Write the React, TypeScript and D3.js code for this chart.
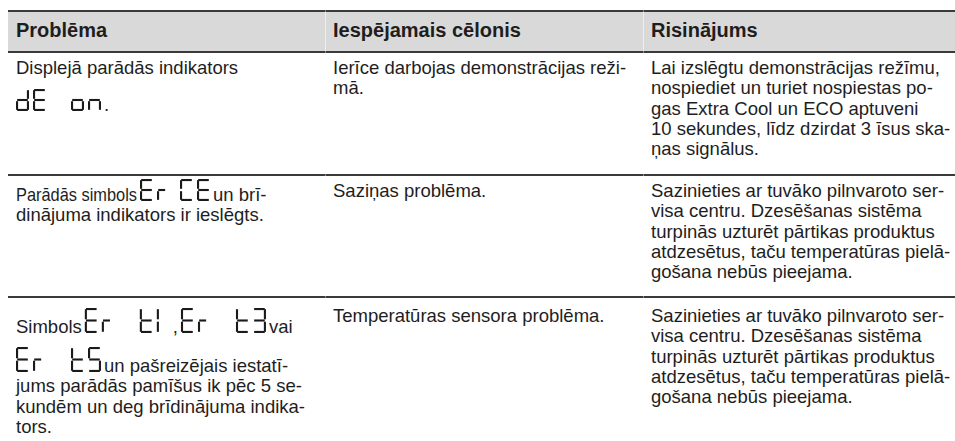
import React, { useEffect, useRef } from "react";
import * as d3 from "d3";

const WIDTH = 955;
const HEIGHT = 441;

// Column headers
const headers = ["Problēma", "Iespējamais cēlonis", "Risinājums"];

// Cell text lines; {…} marks a seven-segment display code, "|" a narrow gap in it
const problems = [
  ["Displejā parādās indikators", "{dE on}."],
  ["Parādās simbols{Er|CE}un brī-", "dinājuma indikators ir ieslēgts."],
  [
    "Simbols{Er t1},{Er t3}vai",
    "{Er t5}un pašreizējais iestatī-",
    "jums parādās pamīšus ik pēc 5 se-",
    "kundēm un deg brīdinājuma indika-",
    "tors.",
  ],
];
const causes = [
  ["Ierīce darbojas demonstrācijas reži-", "mā."],
  ["Saziņas problēma."],
  ["Temperatūras sensora problēma."],
];
const solutions = [
  [
    "Lai izslēgtu demonstrācijas režīmu,",
    "nospiediet un turiet nospiestas po-",
    "gas Extra Cool un ECO aptuveni",
    "10 sekundes, līdz dzirdat 3 īsus ska-",
    "ņas signālus.",
  ],
  [
    "Sazinieties ar tuvāko pilnvaroto ser-",
    "visa centru. Dzesēšanas sistēma",
    "turpinās uzturēt pārtikas produktus",
    "atdzesētus, taču temperatūras pielā-",
    "gošana nebūs pieejama.",
  ],
  [
    "Sazinieties ar tuvāko pilnvaroto ser-",
    "visa centru. Dzesēšanas sistēma",
    "turpinās uzturēt pārtikas produktus",
    "atdzesētus, taču temperatūras pielā-",
    "gošana nebūs pieejama.",
  ],
];

// seven-segment map
const SEGMENTS: Record<string, string> = {
  d: "bcdeg",
  E: "adefg",
  o: "cdeg",
  n: "ceg",
  r: "eg",
  C: "adef",
  t: "defg",
  "1": "ef",
  "3": "abcdg",
  "5": "acdfg",
};

const FONT = "'Liberation Sans', Arial, Helvetica, sans-serif";
const BODY_SIZE = 18.5;
const HEAD_SIZE = 20;
const TEXT_COLOR = "#1e1e1e";
const LINE_COLOR = "#3a3a3a";

// layout
const colEdges = [8, 325, 643, WIDTH];
const PAD_X = 8;
const TOP_LINE = 11;
const HEAD_LINE = 52;
const ROW_LINES = [175, 297];
const HEAD_BASE = 37;
const LINE_H = 20.3;
const GLYPH_W = 13;
const GLYPH_T = 2.1;
const GLYPH_PITCH = 17;
const GLYPH_SPACE = 21;
const GLYPH_NARROW = 6;
const rowGlyphH = [22, 22, 25];
// run widths that the reference squeezes
const squeezed: Record<string, number> = { "Parādās simbols": 121 };

// first baselines [row][col] and advance of a line that holds a display code
const firstBase = [
  [74, 74, 74],
  [201, 197, 197],
  [333, 322, 322],
];
const glyphLineAdv = [37, 37, 39];

export default function App() {
  const ref = useRef<SVGSVGElement>(null);

  useEffect(() => {
    const svg = d3.select(ref.current);
    svg.selectAll("*").remove();

    const x = d3.scaleOrdinal<number, number>().domain([0, 1, 2]).range(colEdges.slice(0, 3));
    const colRight = (c: number) => colEdges[c + 1];

    // header background
    svg
      .append("rect")
      .attr("x", colEdges[0])
      .attr("y", TOP_LINE)
      .attr("width", WIDTH - colEdges[0])
      .attr("height", HEAD_LINE - TOP_LINE)
      .attr("fill", "#d9d9d9");

    // faint column separators in header
    [1, 2].forEach((c) => {
      svg
        .append("line")
        .attr("x1", x(c) + 0.5)
        .attr("x2", x(c) + 0.5)
        .attr("y1", TOP_LINE)
        .attr("y2", HEAD_LINE)
        .attr("stroke", "#efefef")
        .attr("stroke-width", 1);
    });

    // horizontal rules
    const rules = [TOP_LINE, HEAD_LINE, ...ROW_LINES];
    rules.forEach((y) => {
      [0, 1, 2].forEach((c) => {
        svg
          .append("line")
          .attr("x1", x(c) + (c === 0 ? 0 : 1))
          .attr("x2", colRight(c))
          .attr("y1", y)
          .attr("y2", y)
          .attr("stroke", LINE_COLOR)
          .attr("stroke-width", 2.2);
      });
      [1, 2].forEach((c) => {
        svg
          .append("line")
          .attr("x1", x(c))
          .attr("x2", x(c) + 1)
          .attr("y1", y)
          .attr("y2", y)
          .attr("stroke", "#8a8a8a")
          .attr("stroke-width", 2.2);
      });
    });

    // headers
    headers.forEach((h, c) => {
      svg
        .append("text")
        .attr("x", x(c) + PAD_X)
        .attr("y", HEAD_BASE)
        .attr("font-family", FONT)
        .attr("font-size", HEAD_SIZE)
        .attr("font-weight", "bold")
        .attr("fill", TEXT_COLOR)
        .text(h);
    });

    const body = svg.append("g").attr("font-family", FONT).attr("font-size", BODY_SIZE).attr("fill", TEXT_COLOR);

    const drawGlyph = (g: any, gx: number, base: number, ch: string, h: number) => {
      const segs = SEGMENTS[ch] || "";
      const w = ch === "r" ? GLYPH_W * 0.72 : GLYPH_W;
      const t = GLYPH_T;
      const top = base - h;
      const gap = 1.2;
      const mid = top + h / 2;
      const rects: Record<string, [number, number, number, number]> = {
        a: [gx + gap, top, w - 2 * gap, t],
        g: [gx + gap, mid - t / 2, w - 2 * gap, t],
        d: [gx + gap, top + h - t, w - 2 * gap, t],
        f: [gx, top + gap, t, h / 2 - 2 * gap],
        e: [gx, mid + gap, t, h / 2 - 2 * gap],
        b: [gx + w - t, top + gap, t, h / 2 - 2 * gap],
        c: [gx + w - t, mid + gap, t, h / 2 - 2 * gap],
      };
      segs.split("").forEach((s) => {
        const [rx, ry, rw, rh] = rects[s];
        g.append("rect").attr("x", rx).attr("y", ry).attr("width", rw).attr("height", rh).attr("fill", "#1a1a1a");
      });
    };

    const drawLcd = (g: any, cx: number, base: number, code: string, h: number) => {
      let px = cx;
      for (const ch of code) {
        if (ch === " ") px += GLYPH_SPACE;
        else if (ch === "|") px += GLYPH_NARROW;
        else {
          drawGlyph(g, px, base, ch, h);
          px += GLYPH_PITCH;
        }
      }
      return px - (GLYPH_PITCH - GLYPH_W);
    };

    const drawLine = (g: any, lx: number, base: number, line: string, h: number) => {
      const parts = line.split(/(\{[^}]*\})/).filter((s) => s.length);
      let cx = lx;
      parts.forEach((p, i) => {
        if (p.startsWith("{")) {
          cx = drawLcd(g, cx + (i === 0 ? 0 : 3), base, p.slice(1, -1), h) + 3;
        } else {
          const t = g
            .append("text")
            .attr("x", cx)
            .attr("y", base)
            .style("white-space", "pre")
            .text(p);
          if (squeezed[p]) {
            t.attr("textLength", squeezed[p]).attr("lengthAdjust", "spacingAndGlyphs");
            cx += squeezed[p];
          } else {
            cx += (t.node() as SVGTextElement).getComputedTextLength();
          }
        }
      });
    };

    const cols = [problems, causes, solutions];
    cols.forEach((col, c) => {
      col.forEach((lines, r) => {
        let base = firstBase[r][c];
        lines.forEach((line, i) => {
          const hasGlyph = line.includes("{");
          if (i > 0) base += hasGlyph ? glyphLineAdv[r] : LINE_H;
          drawLine(body, x(c) + PAD_X, base, line, rowGlyphH[r]);
        });
      });
    });
  }, []);

  return (
    <svg
      ref={ref}
      width={WIDTH}
      height={HEIGHT}
      style={{ position: "absolute", left: 0, top: 0, display: "block", background: "#fff" }}
    />
  );
}
